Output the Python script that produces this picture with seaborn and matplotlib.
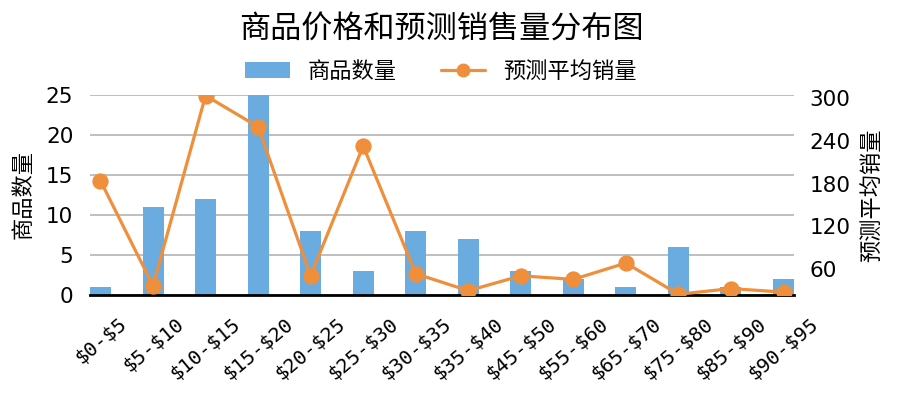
import matplotlib
matplotlib.use("Agg")
import matplotlib.pyplot as plt
import seaborn as sns
import pandas as pd
from matplotlib.patches import Patch
from matplotlib.lines import Line2D

categories = ["$0-$5", "$5-$10", "$10-$15", "$15-$20", "$20-$25", "$25-$30", "$30-$35",
              "$35-$40", "$45-$50", "$55-$60", "$65-$70", "$75-$80", "$85-$90", "$90-$95"]
counts = [1, 11, 12, 25, 8, 3, 8, 7, 3, 2, 1, 6, 1, 2]
avg_sales = [184, 36, 304, 260, 50, 233, 53, 29, 50, 45, 68, 24, 32, 27]

bar_color = "#6aacdf"
line_color = "#ef8f3c"
cjk = ["Noto Sans CJK SC", "DejaVu Sans"]

sns.set_style("white")
plt.rcParams["font.family"] = ["DejaVu Sans", "Noto Sans CJK SC"]
plt.rcParams["text.color"] = "black"
plt.rcParams["axes.labelcolor"] = "black"
plt.rcParams["xtick.color"] = "black"
plt.rcParams["ytick.color"] = "black"

df = pd.DataFrame({"cat": categories, "count": counts, "sales": avg_sales})

fig = plt.figure(figsize=(8.98, 3.97), dpi=100)
ax = fig.add_axes([0.1002, 0.257, 0.7840, 0.504])
sns.barplot(data=df, x="cat", y="count", color=bar_color, width=0.4, ax=ax,
            saturation=1, linewidth=0)
ax2 = ax.twinx()
sns.pointplot(data=df, x="cat", y="sales", color=line_color, markers="o", linestyles="-",
              ax=ax2, markersize=10, linewidth=2.3)

ax.set_xlim(-0.2, 13.2)
ax2.set_xlim(-0.2, 13.2)
ax.set_ylim(0, 25)
ax2.set_ylim(23, 305)
ax.set_yticks([0, 5, 10, 15, 20, 25])
ax2.set_yticks([60, 120, 180, 240, 300])
ax.yaxis.grid(True, color="#b4b4b4", linewidth=1.2)
ax.set_axisbelow(True)

for a in (ax, ax2):
    for s in a.spines.values():
        s.set_visible(False)
ax.spines["bottom"].set_visible(True)
ax.spines["bottom"].set_color("black")
ax.spines["bottom"].set_linewidth(2)
ax.spines["bottom"].set_zorder(5)

ax.tick_params(axis="y", length=0, labelsize=15.5, pad=12, labelcolor="black")
ax2.tick_params(axis="y", length=0, labelsize=15.5, pad=11, labelcolor="black")
ax.tick_params(axis="x", length=0, pad=14, labelcolor="black")
ax.set_xticks(range(len(categories)))
ax.set_xticklabels([c.replace("$", r"\$") for c in categories], rotation=40, ha="center",
                   family="DejaVu Sans Mono", fontsize=14.5)

ax.set_xlabel("")
ax.set_ylabel("商品数量", family=cjk, fontsize=16, color="black")
ax2.set_ylabel("预测平均销量", family=cjk, fontsize=16, color="black")
ax.yaxis.set_label_coords(-0.078, 0.5)
ax2.yaxis.set_label_coords(1.094, 0.5)

fig.text(0.491, 0.925, "商品价格和预测销售量分布图", ha="center", va="center",
         family=cjk, fontsize=22.4, color="black")

handles = [Patch(facecolor=bar_color, edgecolor="none"),
           Line2D([0], [0], color=line_color, linewidth=2.3, marker="o", markersize=9)]
fig.legend(handles, ["商品数量", "预测平均销量"], loc="center", bbox_to_anchor=(0.491, 0.82),
           ncol=2, frameon=False, prop={"family": cjk, "size": 16}, columnspacing=2.0,
           handlelength=2.0, handletextpad=0.8, labelcolor="black")

fig.savefig("out.png", dpi=100)
